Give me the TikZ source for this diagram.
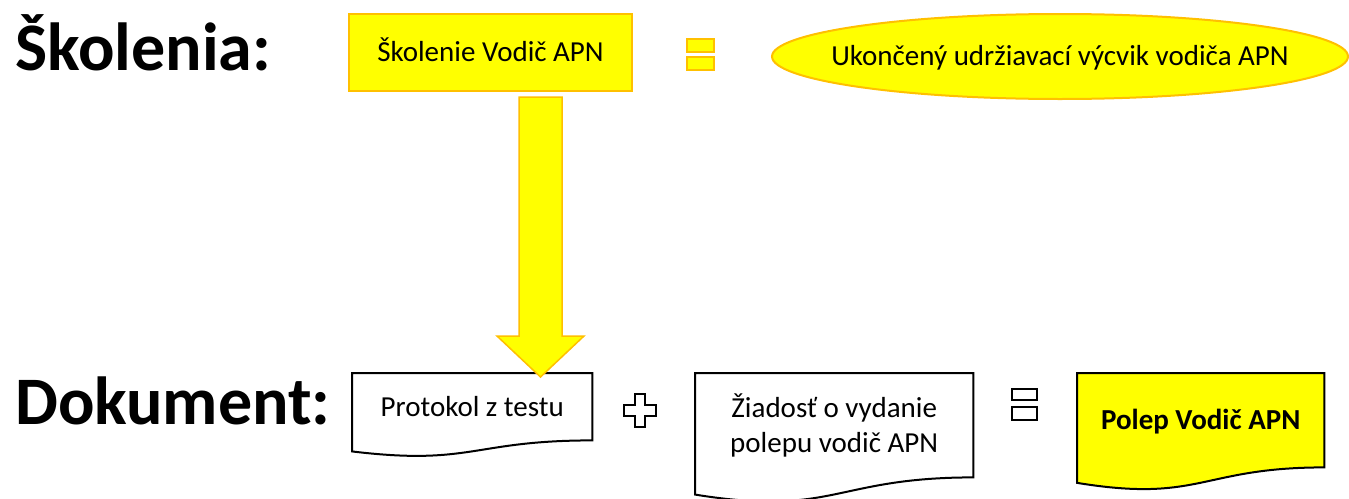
\documentclass[tikz,border=0pt]{standalone}
\usepackage{fontspec}
\setmainfont{Carlito}
\usetikzlibrary{calc,backgrounds}
\definecolor{ylw}{HTML}{FFFF00}
\definecolor{org}{HTML}{FFC000}
\tikzset{
  titletext/.style={font=\fontsize{68}{80}\selectfont\bfseries, anchor=base west, inner sep=0pt},
  lbl/.style={font=\fontsize{29}{35}\selectfont, inner sep=0pt, align=center},
  capcenter/.style={text height=18.7pt, text depth=0pt},
  yshape/.style={fill=ylw, draw=org, line width=2pt},
  bshape/.style={fill=white, draw=black, line width=2pt},
  docnode/.style={lbl, anchor=north west, minimum width=#1, inner sep=0pt},
}
% outline of a flowchart "document" shape around a node that covers its upper (text) part
\newcommand{\docoutline}[3]{%
  \begin{scope}[on background layer]
  \path[#3] (#1.north west) -- (#1.north east) -- (#1.south east)
    .. controls (#1.south) and ($(#1.south)+(0,0.3055*#2)$) ..
    ($(#1.south west)+(0,0.132*#2)$) -- cycle;
  \end{scope}}
\begin{document}
\begin{tikzpicture}[x=1pt,y=-1pt]
\clip (0,0) rectangle (1349,498);
\begin{scope}[on background layer]
\fill[white] (0,0) rectangle (1349,498);
\end{scope}

% titles
\node[titletext] (t1) at (15,70) {Školenia:};
\node[titletext] (t2) at (15,424) {Dokument:};

% top row
\node[yshape, lbl, capcenter, minimum width=283pt, minimum height=77pt, anchor=north west]
  (b1) at (348,13) {Školenie Vodič APN};

\path[yshape] (687,39) rectangle (714,52);
\path[yshape] (687,57) rectangle (714,70);

\node[lbl, capcenter] (e1) at (1060,56.5) {Ukončený udržiavací výcvik vodiča APN};
\begin{scope}[on background layer]
\path[yshape] (e1.center) ellipse [x radius=288pt, y radius=42.5pt];
\end{scope}

% bottom row: documents
\node[docnode=240pt, capcenter, minimum height=67pt] (prot) at (352,373) {Protokol z testu};
\docoutline{prot}{83.5}{bshape}

\path[bshape] (635,394) -- (645,394) -- (645,405) -- (656,405) -- (656,416) -- (645,416)
  -- (645,427) -- (635,427) -- (635,416) -- (624,416) -- (624,405) -- (635,405) -- cycle;

\node[docnode=278pt, minimum height=104pt] (ziad) at (695,373) {Žiadosť o vydanie\\polepu vodič APN};
\docoutline{ziad}{130}{bshape}

\path[bshape] (1012,389) rectangle (1037,400);
\path[bshape] (1012,407) rectangle (1037,420);

\node[docnode=247pt, capcenter, minimum height=94pt, font=\fontsize{29}{35}\selectfont\bfseries]
  (polep) at (1077,373) {Polep Vodič APN};
\docoutline{polep}{117}{yshape, draw=black}

% block arrow from the training box down to the protocol
\coordinate (atop) at (540.5,97);
\coordinate (atip) at (540.5,377);
\path[fill=ylw, draw=org, line width=1.5pt]
  ($(atop)+(-21.5,0)$) -- ($(atop)+(21.5,0)$) -- ($(atip)+(21.5,-41)$) -- ($(atip)+(43.5,-41)$)
  -- (atip) -- ($(atip)+(-43.5,-41)$) -- ($(atip)+(-21.5,-41)$) -- cycle;
\end{tikzpicture}
\end{document}
